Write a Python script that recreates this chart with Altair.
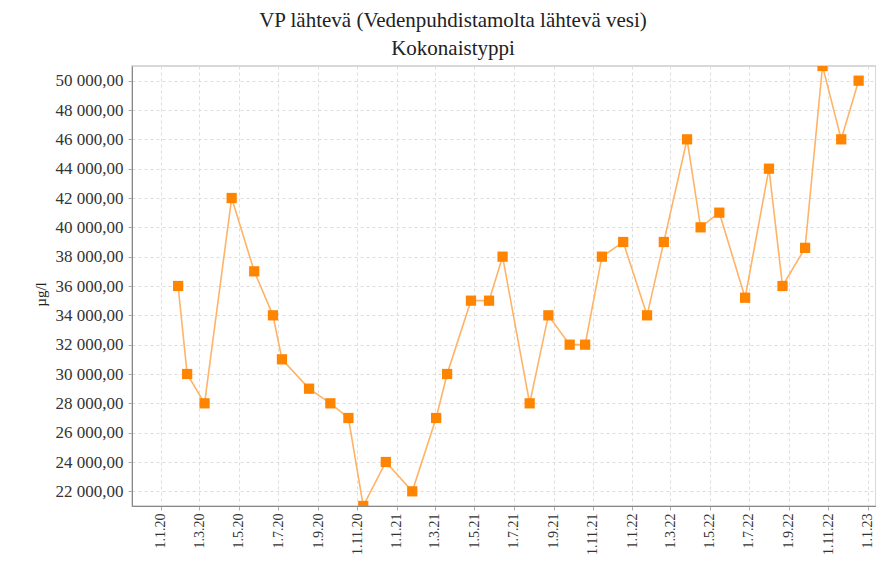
import altair as alt
import pandas as pd

# Measurement dates and values (µg/l)
dates = [
    "2020-01-28", "2020-02-11", "2020-03-09", "2020-04-20", "2020-05-25",
    "2020-06-23", "2020-07-07", "2020-08-18", "2020-09-20", "2020-10-18",
    "2020-11-10", "2020-12-15", "2021-01-25", "2021-03-03", "2021-03-20",
    "2021-04-26", "2021-05-24", "2021-06-14", "2021-07-26", "2021-08-24",
    "2021-09-26", "2021-10-20", "2021-11-15", "2021-12-18", "2022-01-24",
    "2022-02-19", "2022-03-27", "2022-04-17", "2022-05-16", "2022-06-25",
    "2022-08-01", "2022-08-22", "2022-09-26", "2022-10-23", "2022-11-21",
    "2022-12-18",
]
values = [
    36000, 30000, 28000, 42000, 37000,
    34000, 31000, 29000, 28000, 27000,
    21000, 24000, 22000, 27000, 30000,
    35000, 35000, 38000, 28000, 34000,
    32000, 32000, 38000, 39000, 34000,
    39000, 46000, 40000, 41000, 35200,
    44000, 36000, 38600, 51000, 46000,
    50000,
]

# Axis tick values
y_ticks = [22000, 24000, 26000, 28000, 30000, 32000, 34000, 36000,
           38000, 40000, 42000, 44000, 46000, 48000, 50000]
x_tick_months = [(2020, 1), (2020, 3), (2020, 5), (2020, 7), (2020, 9), (2020, 11),
                 (2021, 1), (2021, 3), (2021, 5), (2021, 7), (2021, 9), (2021, 11),
                 (2022, 1), (2022, 3), (2022, 5), (2022, 7), (2022, 9), (2022, 11),
                 (2023, 1)]

title_lines = ["VP lähtevä (Vedenpuhdistamolta lähtevä vesi)", "Kokonaistyppi"]
y_title = "µg/l"

df = pd.DataFrame({"date": dates, "value": values})

FONT = "Liberation Serif"

x_axis = alt.Axis(
    values=[alt.DateTime(year=y, month=m, date=1) for (y, m) in x_tick_months],
    format="%-d.%-m.%y",
    labelAngle=270,
    labelAlign="right",
    labelBaseline="middle",
    labelFont=FONT,
    labelFontSize=14,
    labelColor="#333333",
    labelPadding=3,
    labelOverlap=False,
    labelFlush=False,
    title=None,
    grid=True,
    gridColor="#dddddd",
    gridDash=[3, 3],
    tickColor="#aaaaaa",
    tickSize=4,
    domainColor="#888888",
)

y_axis = alt.Axis(
    values=y_ticks,
    labelExpr="replace(replace(format(datum.value, ',.2f'), ',', ' '), '.', ',')",
    labelFont=FONT,
    labelFontSize=17,
    labelColor="#333333",
    labelPadding=5,
    title=y_title,
    titleFont=FONT,
    titleFontSize=15,
    titleFontWeight="normal",
    titleColor="#222222",
    titleX=-92,
    titleY=228,
    titleAngle=270,
    titleAlign="center",
    titleBaseline="middle",
    grid=True,
    gridColor="#dddddd",
    gridDash=[3, 3],
    tickColor="#aaaaaa",
    tickSize=4,
    domainColor="#888888",
)

base = alt.Chart(df).encode(
    x=alt.X(
        "date:T",
        scale=alt.Scale(
            domain=[
                alt.DateTime(year=2019, month=11, date=17, hours=12),
                alt.DateTime(year=2023, month=1, date=13, hours=22),
            ],
            nice=False,
        ),
        axis=x_axis,
    ),
    y=alt.Y(
        "value:Q",
        scale=alt.Scale(domain=[21000, 51000], nice=False, zero=False),
        axis=y_axis,
    ),
)

line = base.mark_line(color="#ffb366", strokeWidth=1.6, clip=True)
pts = base.mark_point(shape="square", filled=True, size=105, color="#ff8400",
                      opacity=1, clip=True)

chart = (
    (line + pts)
    .properties(
        width=744,
        height=440,
        title=alt.TitleParams(
            text=title_lines,
            font=FONT,
            fontSize=21,
            fontWeight="normal",
            color="#222222",
            anchor="middle",
            dx=-51,
            offset=7,
            lineHeight=28,
        ),
        padding={"left": 124, "top": 58, "right": 0, "bottom": 49},
        autosize=alt.AutoSizeParams(type="none"),
    )
    .configure_view(stroke="#cccccc", strokeWidth=1.5)
)

chart.save("out.html", embed_options={"renderer": "svg", "actions": False})
